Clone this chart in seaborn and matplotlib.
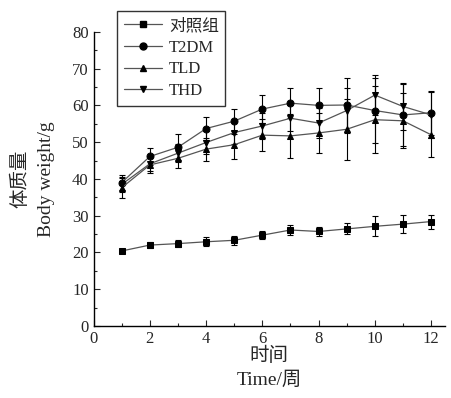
import numpy as np
import pandas as pd
import matplotlib
matplotlib.use("Agg")
import matplotlib.pyplot as plt
from matplotlib.ticker import MultipleLocator
from matplotlib.lines import Line2D
import seaborn as sns

weeks = [1, 2, 3, 4, 5, 6, 7, 8, 9, 10, 11, 12]
groups = ["对照组", "T2DM", "TLD", "THD"]
control = [20.4, 22.0, 22.4, 22.9, 23.3, 24.7, 26.1, 25.7, 26.4, 27.1, 27.7, 28.4]
control_err = [0.5, 0.8, 1.0, 1.2, 1.3, 1.1, 1.3, 1.1, 1.5, 2.7, 2.5, 1.9]
t2dm = [39.0, 46.1, 48.6, 53.7, 55.7, 59.0, 60.6, 60.0, 60.1, 58.6, 57.4, 58.0]
t2dm_err = [2.0, 2.2, 3.5, 3.1, 3.4, 3.7, 4.1, 4.6, 7.3, 8.9, 8.4, 6.0]
tld = [37.6, 43.8, 45.6, 48.1, 49.3, 51.9, 51.7, 52.5, 53.5, 56.1, 55.8, 52.0]
tld_err = [2.7, 2.1, 2.5, 3.1, 3.8, 4.3, 5.9, 5.5, 8.3, 9.1, 7.5, 6.1]
thd = [38.5, 44.1, 47.0, 49.9, 52.6, 54.4, 56.5, 55.2, 58.6, 62.8, 59.7, 57.4]
thd_err = [2.0, 2.0, 2.5, 3.0, 3.0, 3.5, 3.5, 4.0, 6.0, 5.4, 6.5, 6.2]

series = [control, t2dm, tld, thd]
errors = [control_err, t2dm_err, tld_err, thd_err]
markers = ["s", "o", "^", "v"]

sns.set_style("ticks")
plt.rcParams["font.family"] = ["Liberation Serif", "Noto Sans CJK SC"]
plt.rcParams["xtick.direction"] = "in"
plt.rcParams["ytick.direction"] = "in"

fig = plt.figure(figsize=(4.52, 3.98), dpi=100)
ax = fig.add_axes([0.207, 0.181, 0.778, 0.739])

df = pd.concat([pd.DataFrame({"week": weeks, "weight": s, "err": e, "group": g})
                for s, e, g in zip(series, errors, groups)], ignore_index=True)

handles = []
for g, m in zip(groups, markers):
    d = df[df["group"] == g]
    ax.errorbar(d["week"], d["weight"], yerr=d["err"], fmt="none", ecolor="black",
                elinewidth=0.8, capsize=2.5, capthick=0.8, zorder=2)
    sns.lineplot(data=d, x="week", y="weight", ax=ax, color="#555555", linewidth=0.9,
                 marker=m, markersize=5, markerfacecolor="black", markeredgecolor="black",
                 zorder=3, legend=False)
    handles.append(Line2D([], [], color="#555555", linewidth=0.9, marker=m, markersize=5,
                          markerfacecolor="black", markeredgecolor="black"))

ax.set_xlim(0, 12.5)
ax.set_ylim(0, 80)
ax.xaxis.set_major_locator(MultipleLocator(2))
ax.xaxis.set_minor_locator(MultipleLocator(1))
ax.yaxis.set_major_locator(MultipleLocator(10))
ax.yaxis.set_minor_locator(MultipleLocator(5))
ax.tick_params(which="major", length=4, width=0.8, labelsize=12)
ax.tick_params(which="minor", length=2, width=0.8)
for sp in ["top", "right"]:
    ax.spines[sp].set_visible(False)
for sp in ["left", "bottom"]:
    ax.spines[sp].set_linewidth(1.0)
    ax.spines[sp].set_color("black")

ax.set_xlabel("时间\nTime/周", fontsize=14, linespacing=1.5, labelpad=0)
ax.set_ylabel("体质量\nBody weight/g", fontsize=14, linespacing=1.7, labelpad=12)

leg = ax.legend(handles, groups, loc="upper left", bbox_to_anchor=(0.259, 0.972),
                bbox_transform=fig.transFigure, frameon=True, fancybox=False,
                fontsize=12, handlelength=2.3, handletextpad=0.4, labelspacing=0.35,
                borderpad=0.4, borderaxespad=0)
leg.get_frame().set_edgecolor("black")
leg.get_frame().set_linewidth(1.0)

fig.savefig("out.png", dpi=100)
